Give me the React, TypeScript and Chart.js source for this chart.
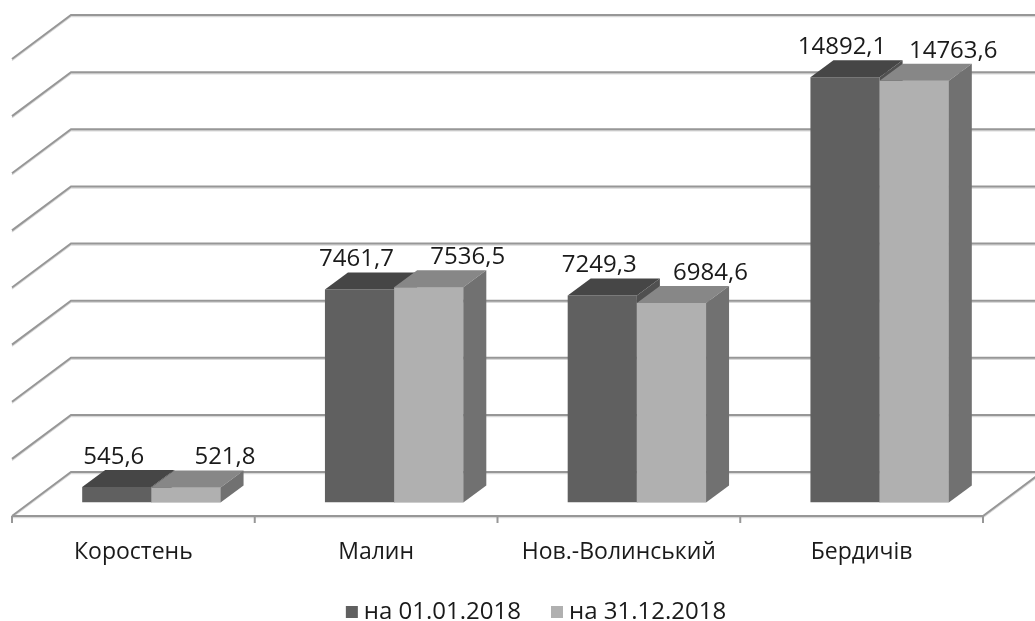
import React, { useEffect, useRef } from 'react';
import { Chart, registerables } from 'chart.js';

Chart.register(...registerables);

// ---- data ----
const categories = ['Коростень', 'Малин', 'Нов.-Волинський', 'Бердичів'];
const seriesNames = ['на 01.01.2018', 'на 31.12.2018'];
const valuesStart = [545.6, 7461.7, 7249.3, 14892.1];
const valuesEnd = [521.8, 7536.5, 6984.6, 14763.6];
const yTicks = [0, 2000, 4000, 6000, 8000, 10000, 12000, 14000, 16000];

// ---- styles ----
const FONT = '"Open Sans", "DejaVu Sans", sans-serif';
const TEXT = '#1a1a1a';
const GRID = '#979797';
const GRID_SHADOW = '#d9d9d9';
const FRONT_COLORS = ['#606060', '#b0b0b0'];
const TOP_COLORS = ['#464646', '#878787'];
const SIDE_COLORS = ['#505050', '#717171'];

// perspective offsets (px)
const FDX = 18, FDY = 13.5; // bar front plane -> floor front edge
const BDX = 23, BDY = 17; // bar depth
const WDX = 41, WDY = 30.5; // bar front plane -> back wall

const fmt = (v: number) => v.toFixed(1).replace('.', ',');

function poly(ctx: CanvasRenderingContext2D, pts: number[][], color: string) {
  ctx.beginPath();
  ctx.moveTo(pts[0][0], pts[0][1]);
  for (let i = 1; i < pts.length; i++) ctx.lineTo(pts[i][0], pts[i][1]);
  ctx.closePath();
  ctx.fillStyle = color;
  ctx.fill();
}

const threeD = {
  id: 'threeD',
  beforeDatasetsDraw(chart: any) {
    const { ctx, chartArea, scales } = chart;
    const y = scales.y;
    const W = chart.width;
    const leftBack = chartArea.left + WDX;
    const leftFront = chartArea.left - FDX;
    ctx.save();
    ctx.lineCap = 'butt';
    ctx.lineJoin = 'miter';
    const drawLine = (pts: number[][], color: string, lw: number, off: number) => {
      ctx.beginPath();
      ctx.moveTo(pts[0][0], pts[0][1] + off);
      for (let i = 1; i < pts.length; i++) ctx.lineTo(pts[i][0], pts[i][1] + off);
      ctx.strokeStyle = color;
      ctx.lineWidth = lw;
      ctx.stroke();
    };
    for (const v of yTicks) {
      const yf = y.getPixelForValue(v);
      const yb = yf - WDY;
      const pts = [
        [leftFront, yf + FDY],
        [leftBack, yb],
        [W + 10, yb],
      ];
      drawLine(pts, GRID_SHADOW, 1.5, 1.5);
      drawLine(pts, GRID, 2, 0);
    }
    // floor front edge + right edge
    const y0 = y.getPixelForValue(0) + FDY;
    const rightFront = chartArea.right - FDX;
    const fl = [
      [leftFront, y0],
      [rightFront, y0],
      [chartArea.right + WDX, y0 - FDY - WDY],
    ];
    drawLine(fl, GRID_SHADOW, 1.5, 1.5);
    drawLine(fl, GRID, 2, 0);
    // category ticks
    const n = categories.length;
    const cw = chartArea.width / n;
    for (let k = 0; k <= n; k++) {
      const xk = chartArea.left + k * cw - FDX;
      drawLine([[xk, y0], [xk, y0 + 7]], GRID, 2, 0);
    }
    ctx.restore();
  },
  afterDatasetsDraw(chart: any) {
    const { ctx } = chart;
    const m0 = chart.getDatasetMeta(0).data;
    const m1 = chart.getDatasetMeta(1).data;
    const geom = (el: any) => {
      const p = el.getProps(['x', 'y', 'base', 'width'], true);
      return { l: p.x - p.width / 2, r: p.x + p.width / 2, t: p.y, b: p.base };
    };
    const top = (g: any, c: string) =>
      poly(ctx, [[g.l, g.t], [g.r, g.t], [g.r + BDX, g.t - BDY], [g.l + BDX, g.t - BDY]], c);
    const side = (g: any, c: string) =>
      poly(ctx, [[g.r, g.t], [g.r + BDX, g.t - BDY], [g.r + BDX, g.b - BDY], [g.r, g.b]], c);
    const front = (g: any, c: string) => poly(ctx, [[g.l, g.t], [g.r, g.t], [g.r, g.b], [g.l, g.b]], c);
    ctx.save();
    for (let i = 0; i < m0.length; i++) {
      const a = geom(m0[i]);
      const b = geom(m1[i]);
      if (a.t <= b.t) {
        side(a, SIDE_COLORS[0]);
        front(b, FRONT_COLORS[1]);
        top(b, TOP_COLORS[1]);
        side(b, SIDE_COLORS[1]);
        top(a, TOP_COLORS[0]);
      } else {
        top(a, TOP_COLORS[0]);
        side(a, SIDE_COLORS[0]);
        front(b, FRONT_COLORS[1]);
        top(b, TOP_COLORS[1]);
        side(b, SIDE_COLORS[1]);
      }
    }
    // data labels
    ctx.fillStyle = TEXT;
    ctx.font = `24px ${FONT}`;
    ctx.textAlign = 'center';
    ctx.textBaseline = 'middle';
    const shifts = [-3, 39];
    chart.data.datasets.forEach((ds: any, di: number) => {
      const meta = chart.getDatasetMeta(di).data;
      meta.forEach((el: any, i: number) => {
        const g = geom(el);
        ctx.fillText(fmt(ds.data[i]), (g.l + g.r) / 2 + shifts[di], g.t - 30);
      });
    });
    ctx.restore();
  },
  afterDraw(chart: any) {
    const { ctx, scales } = chart;
    const x = scales.x;
    const y0 = scales.y.getPixelForValue(0) + FDY;
    ctx.save();
    ctx.fillStyle = TEXT;
    ctx.font = `23px ${FONT}`;
    ctx.textAlign = 'center';
    ctx.textBaseline = 'middle';
    categories.forEach((c, i) => {
      ctx.fillText(c, x.getPixelForValue(i) - FDX, y0 + 36);
    });
    // legend
    ctx.font = `24px ${FONT}`;
    ctx.textAlign = 'left';
    const sq = 12, gap = 6, spacing = 30;
    const widths = seriesNames.map((s) => ctx.measureText(s).width);
    const total = widths.reduce((s, w) => s + sq + gap + w, 0) + spacing * (seriesNames.length - 1);
    let lx = 536 - total / 2;
    const ly = 612;
    seriesNames.forEach((s, i) => {
      ctx.fillStyle = FRONT_COLORS[i];
      ctx.fillRect(lx, ly - sq / 2, sq, sq);
      ctx.fillStyle = TEXT;
      ctx.fillText(s, lx + sq + gap, ly);
      lx += sq + gap + widths[i] + spacing;
    });
    ctx.restore();
  },
};

export default function App() {
  const ref = useRef<HTMLCanvasElement>(null);
  useEffect(() => {
    if (!ref.current) return;
    const chart = new Chart(ref.current, {
      type: 'bar',
      data: {
        labels: categories,
        datasets: [
          { label: seriesNames[0], data: valuesStart, backgroundColor: FRONT_COLORS[0], borderWidth: 0 },
          { label: seriesNames[1], data: valuesEnd, backgroundColor: FRONT_COLORS[1], borderWidth: 0 },
        ],
      },
      options: {
        responsive: false,
        animation: false,
        events: [],
        layout: { padding: { left: 30, right: 34, top: 45.5, bottom: 118.5 } },
        datasets: { bar: { barPercentage: 1, categoryPercentage: 0.57 } },
        scales: {
          x: { display: false, offset: true },
          y: { display: false, min: 0, max: 16000 },
        },
        plugins: { legend: { display: false }, tooltip: { enabled: false } },
      },
      plugins: [threeD],
    });
    return () => chart.destroy();
  }, []);
  return (
    <div style={{ position: 'fixed', left: 0, top: 0, width: 1035, height: 621, background: '#fff' }}>
      <canvas ref={ref} width={1035} height={621} />
    </div>
  );
}
